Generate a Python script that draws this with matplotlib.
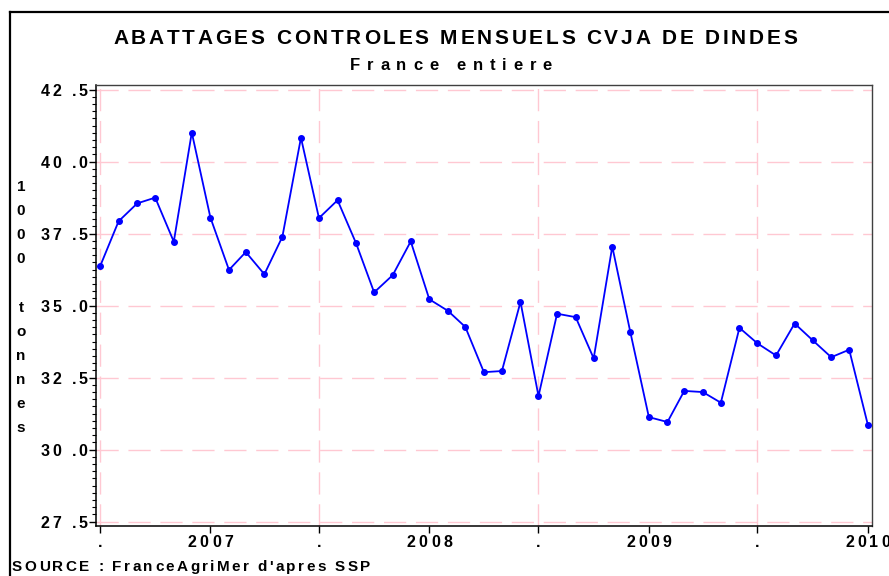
import matplotlib
matplotlib.use("Agg")
import matplotlib.pyplot as plt
import matplotlib.dates as mdates
import pandas as pd
from matplotlib.font_manager import FontProperties, findfont, get_font
from matplotlib.lines import Line2D
from matplotlib.ticker import MultipleLocator, NullFormatter
from matplotlib.transforms import offset_copy, blended_transform_factory

# monthly controlled slaughter of turkeys, 1000 tonnes, July 2006 -> January 2010
months = pd.date_range("2006-07-01", periods=43, freq="MS")
tonnes = [36.36, 37.93, 38.55, 38.75, 37.22, 41.01, 38.06, 36.24, 36.86, 36.09,
          37.39, 40.83, 38.04, 38.66, 37.16, 35.46, 36.06, 37.23, 35.22, 34.82,
          34.26, 32.69, 32.73, 35.13, 31.86, 34.72, 34.60, 33.17, 37.05, 34.09,
          31.13, 30.96, 32.04, 32.00, 31.63, 34.23, 33.69, 33.27, 34.38, 33.80,
          33.21, 33.47, 30.87]

year_ticks = ["2007-01-01", "2008-01-01", "2009-01-01", "2010-01-01"]
year_labels = ["2007", "2008", "2009", "2010"]
half_ticks = ["2006-07-01", "2007-07-01", "2008-07-01", "2009-07-01"]
y_ticks = [27.5, 30.0, 32.5, 35.0, 37.5, 40.0, 42.5]

title = "ABATTAGES CONTROLES MENSUELS CVJA DE DINDES"
subtitle = "France entiere"
source = "SOURCE : FranceAgriMer d'apres SSP"
ylabel = "1000 tonnes"

W, H = 889, 576
FONT = FontProperties(family=["Liberation Sans", "DejaVu Sans"], weight="bold")

fig = plt.figure(figsize=(W / 100, H / 100), dpi=100)
ax = fig.add_axes([96 / W, 1 - 526 / H, (872 - 96) / W, (526 - 85) / H])


def tracked(x, y, s, size, trans, ha="center", track=None, width=None, dx=0, dy=0):
    # SAS style letter-spaced text, drawn one glyph at a time
    font = get_font(findfont(FONT))
    font.set_size(size, 72)
    advs = [font.load_char(ord(c)).linearHoriAdvance / 65536 for c in s]
    if track is None:
        track = (width * 0.72 - sum(advs)) / (len(s) - 1)
    total = sum(advs) + track * (len(s) - 1)
    pos = {"left": 0, "center": -total / 2, "right": -total}[ha] + dx
    for c, a in zip(s, advs):
        if c != " ":
            fig.text(x, y, c, fontproperties=FONT, fontsize=size, ha="left", va="baseline",
                     transform=offset_copy(trans, fig=fig, x=pos, y=dy, units="points"))
        pos += a + track


ax.plot(months, tonnes, color="#0000FF", lw=1.3, marker="o", ms=4, zorder=3)

ax.set_xlim(mdates.date2num(months[0]) - 6.7, mdates.date2num(months[-1]) + 7)
ax.set_ylim(27.35, 42.66)

ax.set_xticks(pd.to_datetime(year_ticks))
ax.set_xticks(pd.to_datetime(half_ticks), minor=True)
ax.set_yticks(y_ticks)
ax.yaxis.set_minor_locator(MultipleLocator(0.25))
ax.xaxis.set_major_formatter(NullFormatter())
ax.xaxis.set_minor_formatter(NullFormatter())
ax.yaxis.set_major_formatter(NullFormatter())
ax.tick_params(which="major", length=5, width=1, color="black")
ax.tick_params(axis="y", which="minor", length=3, width=0.8, color="black")
ax.tick_params(axis="x", which="minor", length=5, width=1, color="black")

grid = dict(color="#FFC8D2", lw=1, dashes=(16, 7))
ax.yaxis.grid(True, which="major", **grid)
ax.xaxis.grid(True, which="minor", **grid)
ax.set_axisbelow(True)

for side in ["left", "bottom"]:
    ax.spines[side].set_color("black")
    ax.spines[side].set_linewidth(1.1)
for side in ["top", "right"]:
    ax.spines[side].set_color("#404040")
    ax.spines[side].set_linewidth(1)

# tick labels
ytrans = blended_transform_factory(ax.transAxes, ax.transData)
for v in y_ticks:
    tracked(0, v, f"{v:.1f}".replace(".", " ."), 11.5, ytrans, ha="right", track=2.1, dx=-6, dy=-4.3)

xtrans = blended_transform_factory(ax.transData, ax.transAxes)
for d in half_ticks:
    tracked(mdates.date2num(pd.Timestamp(d)), 0, ".", 11.5, xtrans, track=0, dy=-15)
for d, lab in zip(year_ticks, year_labels):
    tracked(mdates.date2num(pd.Timestamp(d)), 0, lab, 11.5, xtrans, track=2.4, dy=-15)

# titles and notes
tf = fig.transFigure
tracked(455 / W, 1 - 44 / H, title, 15, tf, width=684)
tracked(451 / W, 1 - 70 / H, subtitle, 12, tf, width=202)
tracked(12 / W, 1 - 571 / H, source, 11, tf, ha="left", width=358)
for i, c in enumerate(ylabel):
    if c != " ":
        tracked(21 / W, 1 - (191 + 24.1 * i) / H, c, 11, tf, track=0)

# outer frame, open on the right and bottom
fig.add_artist(Line2D([10 / W, 10 / W], [0, 1 - 12 / H], transform=tf, color="black", lw=1.6))
fig.add_artist(Line2D([10 / W, 1], [1 - 12 / H, 1 - 12 / H], transform=tf, color="black", lw=1.6))

fig.savefig("out.png", dpi=100)
